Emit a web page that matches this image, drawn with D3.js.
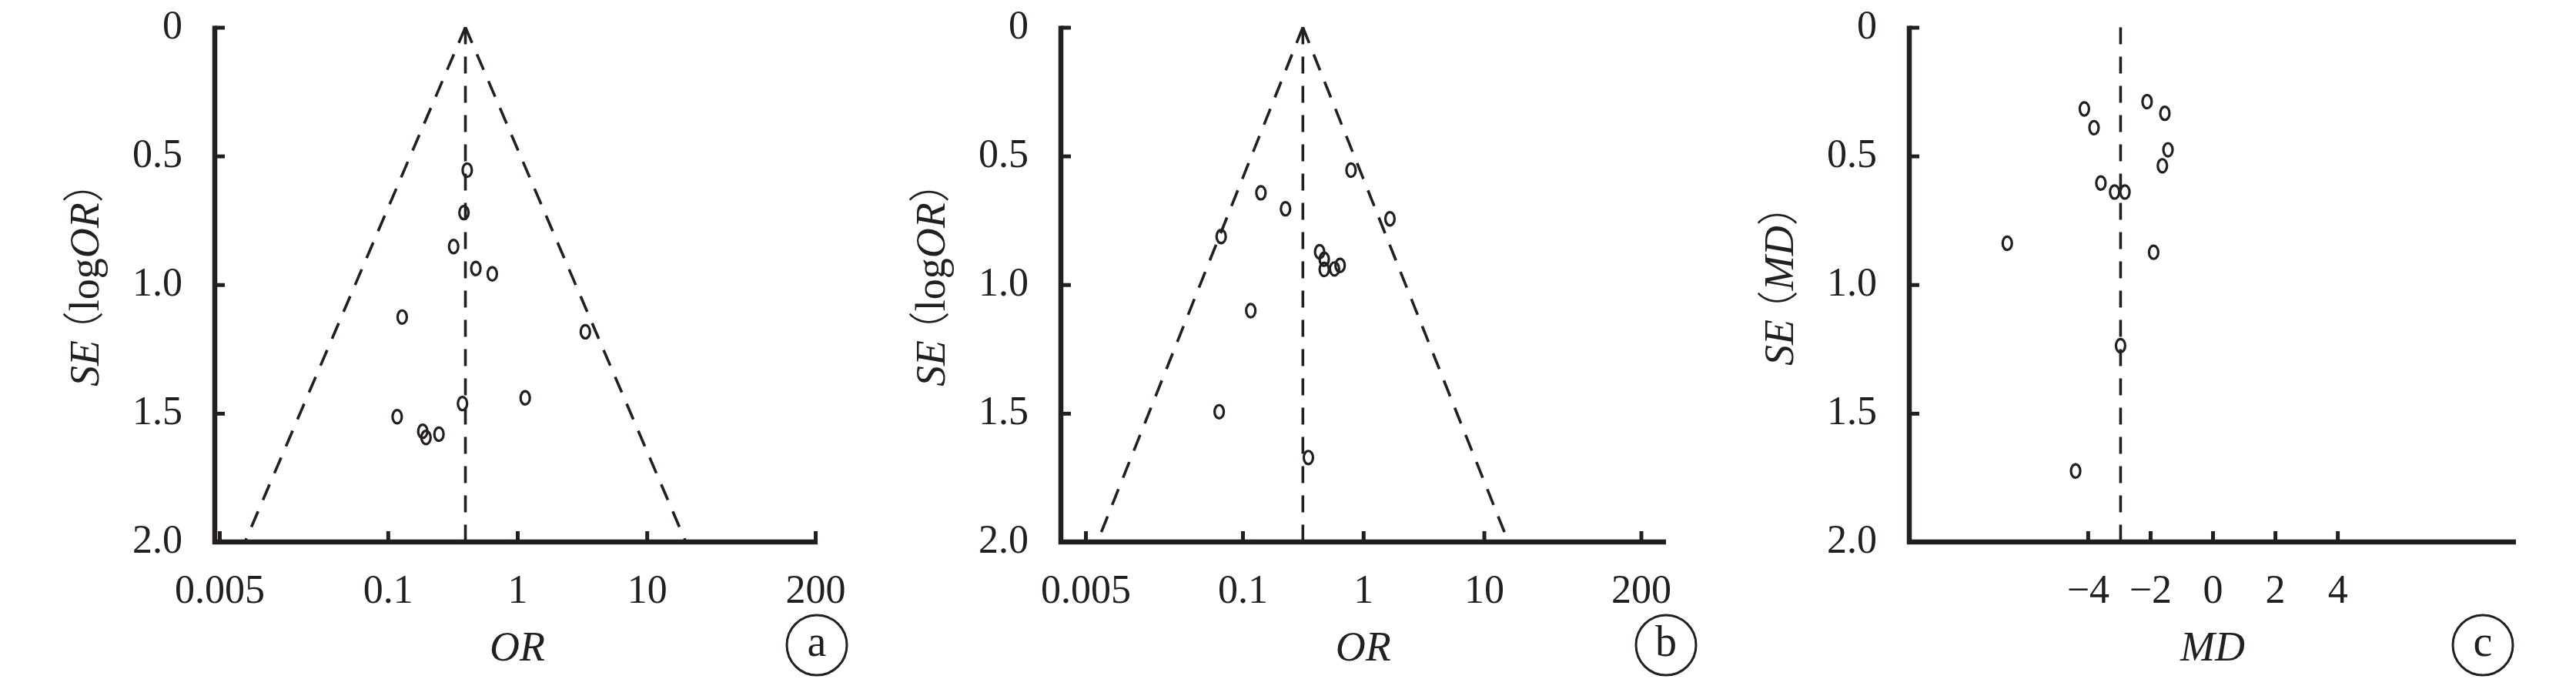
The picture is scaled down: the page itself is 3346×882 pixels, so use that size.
<!DOCTYPE html>
<html>
<head>
<meta charset="utf-8">
<script src="https://cdn.jsdelivr.net/npm/d3@7"></script>
<style>
  html, body { margin: 0; padding: 0; background: #fff; }
  svg { display: block; }
</style>
</head>
<body>
<svg id="chart" width="3346" height="882"></svg>
<script>
// ---------------- DATA ----------------
const seTicks = [0, 0.5, 1, 1.5, 2];
const seTickLabels = ["0", "0.5", "1.0", "1.5", "2.0"];
const orTicks = [0.005, 0.1, 1, 10, 200];
const orTickLabels = ["0.005", "0.1", "1", "10", "200"];
const mdTicks = [-4, -2, 0, 2, 4];
const mdTickLabels = ["\u22124", "\u22122", "0", "2", "4"];

// Panel a : OR vs SE(logOR)
const orA = [0.41, 0.387, 0.322, 0.478, 0.64, 0.129, 3.35, 1.15, 0.377, 0.118, 0.186, 0.197, 0.248];
const seA = [0.555, 0.72, 0.852, 0.937, 0.958, 1.126, 1.183, 1.44, 1.462, 1.513, 1.57, 1.594, 1.581];
const pooledA = 0.397;

// Panel b : OR vs SE(logOR)
const orB = [0.792, 0.142, 0.227, 1.664, 0.0665, 0.435, 0.475, 0.475, 0.578, 0.643, 0.117, 0.064, 0.351];
const seB = [0.555, 0.643, 0.705, 0.744, 0.813, 0.872, 0.901, 0.941, 0.939, 0.925, 1.101, 1.494, 1.672];
const pooledB = 0.316;

// Panel c : MD vs SE(MD)
const mdC = [-4.11, -3.80, -2.10, -1.53, -1.43, -1.61, -3.58, -3.14, -2.81, -6.58, -1.89, -2.95, -4.39];
const seC = [0.317, 0.390, 0.289, 0.334, 0.476, 0.538, 0.605, 0.640, 0.640, 0.839, 0.874, 1.237, 1.724];
const pooledC = -2.95;

const z95 = 1.96;

// ---------------- LAYOUT ----------------
const INK = "#231f20";
const SERIF = "'Liberation Serif', 'Times New Roman', serif";
const CJK = "'Noto Sans CJK SC', 'Noto Sans CJK JP', sans-serif";
const yTop = 35.5, yBot = 704;
const tickFont = 52, titleFont = 54;

const svg = d3.select("#chart");
svg.append("rect").attr("width", 3346).attr("height", 882).attr("fill", "#fff");

const yScale = d3.scaleLinear().domain([0, 2]).range([yTop, yBot]);

function drawPanel(cfg) {
  const g = svg.append("g");
  const x = cfg.x;

  // dashed reference lines
  const dash = "22,16";
  const lineG = g.append("g").attr("fill", "none").attr("stroke", INK)
    .attr("stroke-width", 3.6).attr("stroke-dasharray", dash);
  const line = d3.line().x(d => x(d[0])).y(d => yScale(d[1]));
  if (cfg.funnel) {
    const p = cfg.pooled;
    lineG.append("path").attr("d", line([[p, 0], [p * Math.exp(-z95 * 2), 2]]));
    lineG.append("path").attr("d", line([[p, 0], [p * Math.exp(z95 * 2), 2]]));
  }
  lineG.append("path").attr("d", line([[cfg.pooled, 0], [cfg.pooled, 2]]));

  // axes lines
  g.append("line").attr("x1", cfg.axisX).attr("x2", cfg.axisX)
    .attr("y1", yTop - 2).attr("y2", yBot + 3)
    .attr("stroke", INK).attr("stroke-width", 6.5);
  g.append("line").attr("x1", cfg.axisX - 3).attr("x2", cfg.axisEnd)
    .attr("y1", yBot).attr("y2", yBot)
    .attr("stroke", INK).attr("stroke-width", 6.5);

  // y axis ticks + labels
  const yAx = d3.axisLeft(yScale).tickValues(seTicks)
    .tickFormat((d, i) => seTickLabels[i]).tickSizeInner(-13).tickSizeOuter(0).tickPadding(42);
  const yg = g.append("g").attr("transform", `translate(${cfg.axisX},0)`).call(yAx);
  yg.select(".domain").remove();
  yg.selectAll(".tick line").attr("stroke", INK).attr("stroke-width", 5);
  yg.selectAll(".tick text").attr("fill", INK).attr("font-family", SERIF)
    .attr("font-size", tickFont).attr("dy", "0.26em");

  // x axis ticks + labels
  const xAx = d3.axisBottom(x).tickValues(cfg.xTicks)
    .tickFormat((d, i) => cfg.xTickLabels[i]).tickSizeInner(-14).tickSizeOuter(0).tickPadding(0);
  const xg = g.append("g").attr("transform", `translate(0,${yBot})`).call(xAx);
  xg.select(".domain").remove();
  xg.selectAll(".tick line").attr("stroke", INK).attr("stroke-width", 5);
  xg.selectAll(".tick text").attr("fill", INK).attr("font-family", SERIF)
    .attr("font-size", tickFont).attr("y", 79).attr("dy", 0);

  // points
  g.append("g").selectAll("ellipse").data(cfg.xs).join("ellipse")
    .attr("cx", d => x(d)).attr("cy", (d, i) => yScale(cfg.ses[i]))
    .attr("rx", 6).attr("ry", 8.6)
    .attr("fill", "none").attr("stroke", INK).attr("stroke-width", 3.2);

  // x title
  g.append("text").attr("x", x(cfg.xMid)).attr("y", 858)
    .attr("text-anchor", "middle").attr("font-family", SERIF)
    .attr("font-style", "italic").attr("font-size", titleFont).attr("fill", INK)
    .text(cfg.xTitle);

  // y title (rotated)
  const yt = g.append("text")
    .attr("transform", `translate(${cfg.axisX - 151},${cfg.yTitleStart}) rotate(-90)`)
    .attr("font-family", SERIF).attr("font-size", titleFont).attr("fill", INK);
  cfg.yTitle.forEach(p => {
    const ts = yt.append("tspan").text(p.t);
    if (p.i) ts.attr("font-style", "italic");
    if (p.cjk) ts.attr("font-family", CJK).attr("font-weight", 300);
    if (p.dx) ts.attr("dx", p.dx);
  });

  // panel letter in circle
  g.append("circle").attr("cx", cfg.circleX).attr("cy", 838).attr("r", 39)
    .attr("fill", "none").attr("stroke", INK).attr("stroke-width", 3);
  g.append("text").attr("x", cfg.circleX).attr("y", 852)
    .attr("text-anchor", "middle").attr("font-family", SERIF)
    .attr("font-size", 56).attr("fill", INK).text(cfg.letter);
}

const yTitleOR = [
  {t: "SE", i: true}, {t: "\uFF08", cjk: true, dx: "-0.3em"}, {t: "log"},
  {t: "OR", i: true}, {t: "\uFF09", cjk: true}
];
const yTitleMD = [
  {t: "SE", i: true}, {t: "\uFF08", cjk: true, dx: "-0.3em"},
  {t: "MD", i: true}, {t: "\uFF09", cjk: true}
];

drawPanel({
  x: d3.scaleLog().domain([0.005, 200]).range([285, 1059]),
  axisX: 279, axisEnd: 1062, circleX: 1061, letter: "a",
  xTicks: orTicks, xTickLabels: orTickLabels, xMid: 1,
  xs: orA, ses: seA, pooled: pooledA, funnel: true,
  xTitle: "OR", yTitle: yTitleOR, yTitleStart: 502
});
drawPanel({
  x: d3.scaleLog().domain([0.005, 200]).range([1410, 2131.5]),
  axisX: 1378, axisEnd: 2164, circleX: 2164, letter: "b",
  xTicks: orTicks, xTickLabels: orTickLabels, xMid: 1,
  xs: orB, ses: seB, pooled: pooledB, funnel: true,
  xTitle: "OR", yTitle: yTitleOR, yTitleStart: 502
});
drawPanel({
  x: d3.scaleLinear().domain([-9.72, 9.72]).range([2480, 3268]),
  axisX: 2480, axisEnd: 3268, circleX: 3225, letter: "c",
  xTicks: mdTicks, xTickLabels: mdTickLabels, xMid: 0,
  xs: mdC, ses: seC, pooled: pooledC, funnel: false,
  xTitle: "MD", yTitle: yTitleMD, yTitleStart: 475
});
</script>
</body>
</html>
